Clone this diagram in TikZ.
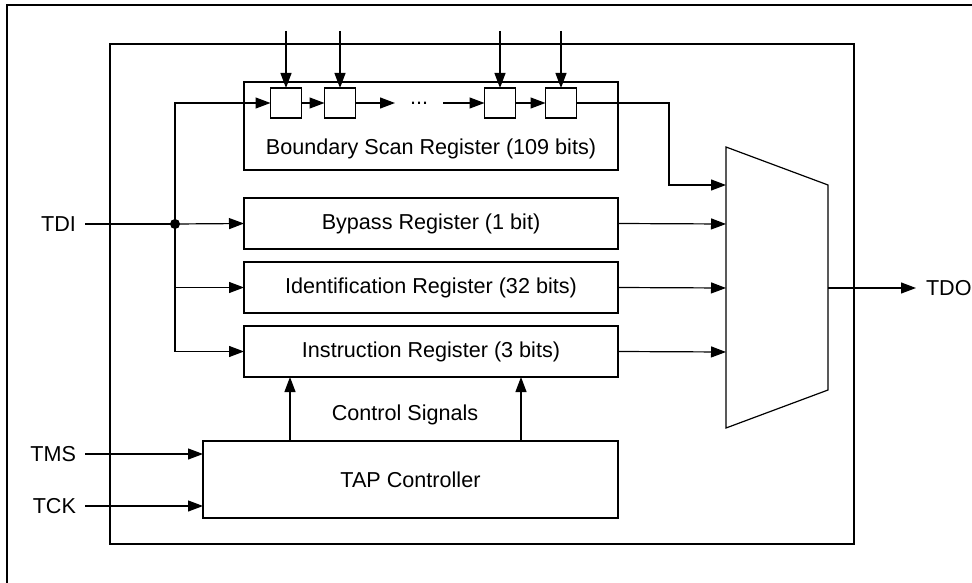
\documentclass[tikz,border=0pt]{standalone}
\usepackage{fontspec}
\setmainfont{Liberation Sans}
\usetikzlibrary{arrows.meta}
\begin{document}
\begin{tikzpicture}[x=1pt,y=-1pt, line width=1.2pt,
  every node/.style={font=\fontsize{21.6}{26}\selectfont},
  reg/.style={draw, rectangle, inner sep=0pt, outer sep=0pt},
  cell/.style={draw, rectangle, minimum width=31pt, minimum height=30pt, inner sep=0pt, outer sep=0pt},
  lbl/.style={inner sep=0pt, outer sep=0pt},
  arr/.style={-{Triangle[length=15pt,width=11pt]}}]
\useasboundingbox (0,0) rectangle (972,583);
% outer frame (only left and top edges visible)
\draw (7,583) -- (7,5) -- (972,5);
% inner frame
\node[reg, minimum width=744pt, minimum height=500pt] (frame) at (482,294) {};
% boundary scan register
\node[reg, minimum width=374pt, minimum height=88pt] (bsr) at (431,126) {};
\node[lbl] (bsrlbl) at (431,149) {Boundary Scan Register (109 bits)};
\node[cell] (c1) at (286,103) {};
\node[cell] (c2) at (340,103) {};
\node[cell] (c3) at (500,103) {};
\node[cell] (c4) at (561,103) {};
\node[lbl] (dots) at (419,103) {...};
\coordinate (d1) at (395,103);
\coordinate (d2) at (443,103);
\draw[arr] (c1) -- (c2);
\draw[arr] (c2) -- (d1);
\draw[arr] (d2) -- (c3);
\draw[arr] (c3) -- (c4);
\foreach \n/\x in {c1/286,c2/340,c3/500,c4/561}{
  \coordinate (top\n) at (\x,31);
  \draw[arr] (top\n) -- (\n.north);
}
% other registers
\node[reg, minimum width=374pt, minimum height=51pt] (byp) at (431,223.5) {Bypass Register (1 bit)};
\node[reg, minimum width=374pt, minimum height=51pt] (idr) at (431,287.5) {Identification Register (32 bits)};
\node[reg, minimum width=374pt, minimum height=51pt] (ir) at (431,351.5) {Instruction Register (3 bits)};
% TAP controller
\node[reg, minimum width=415pt, minimum height=77pt] (tap) at (410.5,479.5) {TAP Controller};
\node[lbl] (cslbl) at (405,415) {Control Signals};
\coordinate (cs1) at (290,441);
\coordinate (cs2) at (521,441);
\draw[arr] (cs1) -- (cs1 |- ir.south);
\draw[arr] (cs2) -- (cs2 |- ir.south);
% mux
\draw (726,147) -- (828,185) -- (828,390) -- (726,428) -- cycle;
\coordinate (mi1) at (726,185);
\coordinate (mi2) at (726,224);
\coordinate (mi3) at (726,288);
\coordinate (mi4) at (726,352);
\coordinate (mo) at (828,288);
\coordinate (bend) at (669,185);
\draw[arr] (c4.east) -| (bend) -- (mi1);
\draw[arr] (byp.east) -- (mi2);
\draw[arr] (idr.east) -- (mi3);
\draw[arr] (ir.east) -- (mi4);
% TDO
\node[lbl, anchor=west] (tdo) at (926,288) {TDO};
\draw[arr] (mo) -- ([xshift=-10pt]tdo.west);
% TDI
\node[lbl, anchor=east] (tdi) at (76,224) {TDI};
\coordinate (j) at (175,224);
\draw ([xshift=9pt]tdi.east) -- (j);
\fill (j) circle (5pt);
\draw[arr] (j) -- (byp.west);
\draw[arr] (j) |- (c1.west);
\draw[arr] (j) |- (idr.west);
\draw[arr] (j) |- (ir.west);
% TMS, TCK
\node[lbl, anchor=east] (tms) at (76,454) {TMS};
\node[lbl, anchor=east] (tck) at (76,506) {TCK};
\draw[arr] ([xshift=9pt]tms.east) -- (tms.east -| tap.west);
\draw[arr] ([xshift=9pt]tck.east) -- (tck.east -| tap.west);
\end{tikzpicture}
\end{document}
